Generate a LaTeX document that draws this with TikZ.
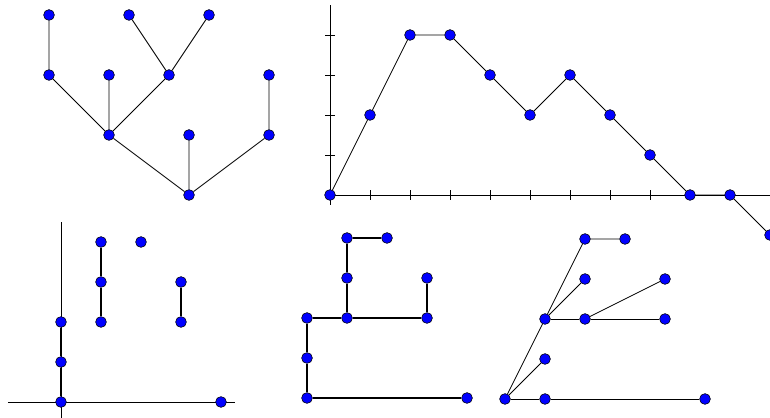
\documentclass[tikz,border=0pt]{standalone}
\begin{document}
\begin{tikzpicture}[vertex/.style={circle,draw=black,fill=blue,inner sep=0pt,minimum size=0.27cm,line width=0.4pt},
    edge/.style={line width=0.6pt},
    bold/.style={line width=1.4pt},
    axis/.style={line width=0.6pt}]
    \useasboundingbox (0,0) rectangle (19.25,10.45);
    % tree
    \begin{scope}[shift={(1.225,5.575)},x=0.5cm,y=1.5cm]
        \node[vertex] (t1) at (0,3) {};
        \node[vertex] (t2) at (4,3) {};
        \node[vertex] (t3) at (8,3) {};
        \node[vertex] (t4) at (0,2) {};
        \node[vertex] (t5) at (3,2) {};
        \node[vertex] (t6) at (6,2) {};
        \node[vertex] (t7) at (11,2) {};
        \node[vertex] (t8) at (3,1) {};
        \node[vertex] (t9) at (7,1) {};
        \node[vertex] (t10) at (11,1) {};
        \node[vertex] (t0) at (7,0) {};
        \draw[edge] (t1)--(t4)--(t8)--(t0)--(t9);
        \draw[edge] (t2)--(t6)--(t3);
        \draw[edge] (t5)--(t8)--(t6);
        \draw[edge] (t0)--(t10)--(t7);
    \end{scope}
    % path
    \begin{scope}[shift={(8.25,5.575)}]
        \draw[axis] (0,-0.25)--(0,4.75);
        \draw[axis] (0,0)--(11.2,0);
        \foreach \k in {1,...,4} \draw[axis] (-0.125,\k)--(0.125,\k);
        \foreach \k in {1,...,11} \draw[axis] (\k,-0.125)--(\k,0.125);
        \node[vertex] (p0) at (0,0) {};
        \node[vertex] (p1) at (1,2) {};
        \node[vertex] (p2) at (2,4) {};
        \node[vertex] (p3) at (3,4) {};
        \node[vertex] (p4) at (4,3) {};
        \node[vertex] (p5) at (5,2) {};
        \node[vertex] (p6) at (6,3) {};
        \node[vertex] (p7) at (7,2) {};
        \node[vertex] (p8) at (8,1) {};
        \node[vertex] (p9) at (9,0) {};
        \node[vertex] (p10) at (10,0) {};
        \node[vertex] (p11) at (11,-1) {};
        \draw[edge] (p0)--(p1)--(p2)--(p3)--(p4)--(p5)--(p6)--(p7)--(p8)--(p9)--(p10)--(p11);
    \end{scope}
    % columns on axes
    \begin{scope}[shift={(1.525,0.4)}]
        \draw[axis] (-1.325,0)--(4.35,0);
        \draw[axis] (0,-0.4)--(0,4.5);
        \node[vertex] (c0) at (0,0) {};
        \node[vertex] (c1) at (0,1) {};
        \node[vertex] (c2) at (0,2) {};
        \node[vertex] (c3) at (1,2) {};
        \node[vertex] (c4) at (1,3) {};
        \node[vertex] (c5) at (1,4) {};
        \node[vertex] (c6) at (2,4) {};
        \node[vertex] (c7) at (3,2) {};
        \node[vertex] (c8) at (3,3) {};
        \node[vertex] (c9) at (4,0) {};
        \draw[bold] (c0)--(c1)--(c2);
        \draw[bold] (c3)--(c4)--(c5);
        \draw[bold] (c7)--(c8);
    \end{scope}
    % staircase
    \begin{scope}[shift={(7.675,0.5)}]
        \node[vertex] (s0) at (0,0) {};
        \node[vertex] (s1) at (0,1) {};
        \node[vertex] (s2) at (0,2) {};
        \node[vertex] (s3) at (1,2) {};
        \node[vertex] (s4) at (1,3) {};
        \node[vertex] (s5) at (1,4) {};
        \node[vertex] (s6) at (2,4) {};
        \node[vertex] (s7) at (3,2) {};
        \node[vertex] (s8) at (3,3) {};
        \node[vertex] (s9) at (4,0) {};
        \draw[bold] (s9)--(s0)--(s1)--(s2)--(s3)--(s7)--(s8);
        \draw[bold] (s3)--(s4)--(s5)--(s6);
    \end{scope}
    % fan
    \begin{scope}[shift={(12.625,0.475)}]
        \node[vertex] (f0) at (0,0) {};
        \node[vertex] (f1) at (1,0) {};
        \node[vertex] (f2) at (5,0) {};
        \node[vertex] (f3) at (1,1) {};
        \node[vertex] (f4) at (1,2) {};
        \node[vertex] (f5) at (2,2) {};
        \node[vertex] (f6) at (4,2) {};
        \node[vertex] (f7) at (2,3) {};
        \node[vertex] (f8) at (4,3) {};
        \node[vertex] (f9) at (2,4) {};
        \node[vertex] (f10) at (3,4) {};
        \draw[edge] (f0)--(f1)--(f2);
        \draw[edge] (f0)--(f3);
        \draw[edge] (f0)--(f4)--(f9)--(f10);
        \draw[edge] (f4)--(f5)--(f6);
        \draw[edge] (f4)--(f7);
        \draw[edge] (f5)--(f8);
    \end{scope}
\end{tikzpicture}
\end{document}
